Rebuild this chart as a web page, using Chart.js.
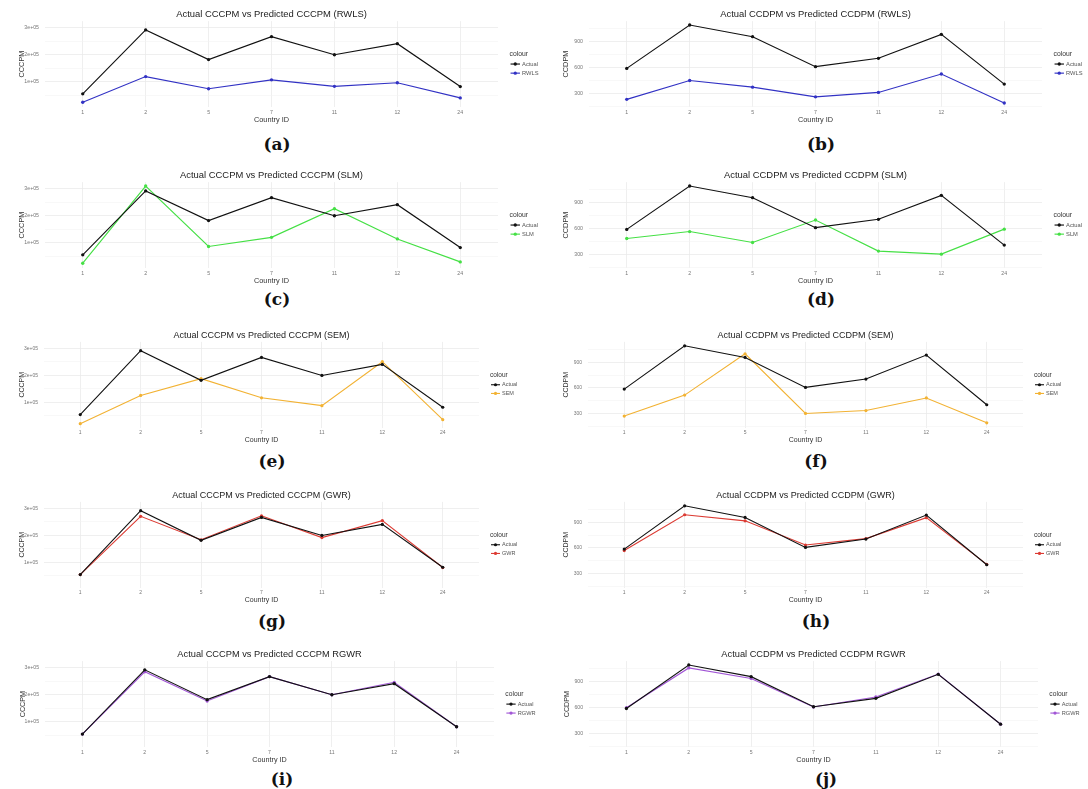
<!DOCTYPE html>
<html lang="en">
<head>
<meta charset="UTF-8">
<title>Actual vs Predicted CCCPM / CCDPM</title>
<style>
  body { margin: 0; background: #fff; width: 1088px; height: 789px; overflow: hidden; position: relative; }
  .panel { position: absolute; width: 544px; overflow: hidden; }
  .caption { position: absolute; width: 60px; text-align: center; font-family: "DejaVu Serif", serif;
             font-weight: bold; font-size: 17px; line-height: 18px; color: #111; }
</style>
<script src="https://cdn.jsdelivr.net/npm/chart.js"></script>
</head>
<body>
<script>
// x categories
const countryIds = ['1', '2', '5', '7', '11', '12', '24'];

// CCCPM (left column)
const actualCCCPM = [55000, 292000, 182000, 267000, 200000, 241000, 82000];
const rwlsCCCPM   = [24000, 119000, 74000, 107000, 83000, 96000, 40000];
const slmCCCPM    = [24000, 310000, 86000, 120000, 226000, 114000, 29000];
const semCCCPM    = [21000, 126000, 188000, 117000, 88000, 251000, 36000];
const gwrCCCPM    = [55000, 271000, 184000, 273000, 192000, 255000, 81000];
const rgwrCCCPM   = [55000, 285000, 177000, 267000, 200000, 246000, 82000];

// CCDPM (right column)
const actualCCDPM = [587, 1090, 955, 607, 704, 982, 405];
const rwlsCCDPM   = [228, 447, 369, 257, 308, 522, 185];
const slmCCDPM    = [481, 562, 435, 696, 335, 300, 590];
const semCCDPM    = [274, 517, 997, 304, 338, 484, 195];
const gwrCCDPM    = [570, 986, 915, 634, 709, 952, 409];
const rgwrCCDPM   = [596, 1056, 934, 604, 720, 985, 405];

const modelNames  = ['RWLS', 'SLM', 'SEM', 'GWR', 'RGWR'];
const titleSuffix = ['(RWLS)', '(SLM)', '(SEM)', '(GWR)', 'RGWR'];
const modelColors = ['#3232c4', '#45e045', '#f2b233', '#dc3b33', '#a257d6'];
const captions    = [['(a)', '(b)'], ['(c)', '(d)'], ['(e)', '(f)'], ['(g)', '(h)'], ['(i)', '(j)']];

// page layout, one entry per row
const rowTitleY   = [13, 173.5, 333.5, 493.5, 652.5];
const rowCaptionY = [144, 299, 461, 621, 779];
const rowCaptionX = [277, 277, 272, 272, 282];
const rowScale    = [1.046, 1.046, 1, 1, 1.03];
const rowPlotX    = [[45, 498], [45, 498], [44, 479], [44, 479], [45, 494]];

const predicted = [
  [rwlsCCCPM, slmCCCPM, semCCCPM, gwrCCCPM, rgwrCCCPM],
  [rwlsCCDPM, slmCCDPM, semCCDPM, gwrCCDPM, rgwrCCDPM]
];
const actual = [actualCCCPM, actualCCDPM];
const measure = ['CCCPM', 'CCDPM'];
const majorStep = [100000, 300];

const FONT = '"Liberation Sans", Arial, sans-serif';

function fmtSci(v) {
  return v.toExponential(0).replace('e+', 'e+0');
}

// shared y range per column (all series, 5% expansion like ggplot)
function columnRange(col) {
  const all = actual[col].concat(...predicted[col]);
  const lo = Math.min(...all), hi = Math.max(...all);
  const pad = (hi - lo) * 0.05;
  return [lo - pad, hi + pad];
}

// ggplot-like legend drawn right of the plot panel
const ggLegend = {
  id: 'ggLegend',
  afterDraw(chart, args, opts) {
    const ctx = chart.ctx;
    const a = chart.chartArea;
    const s = opts.scale;
    const x0 = a.right + 11 * s;
    const yc = (a.top + a.bottom) / 2;
    ctx.save();
    ctx.textBaseline = 'middle';
    ctx.textAlign = 'left';
    ctx.fillStyle = '#333';
    ctx.font = (6.5 * s) + 'px ' + FONT;
    ctx.fillText('colour', x0, yc - 9.5 * s);
    chart.data.datasets.forEach((d, i) => {
      const y = yc + i * 8.7 * s;
      ctx.strokeStyle = d.borderColor;
      ctx.lineWidth = 1.1 * s;
      ctx.beginPath();
      ctx.moveTo(x0 + 1 * s, y);
      ctx.lineTo(x0 + 10 * s, y);
      ctx.stroke();
      ctx.fillStyle = d.borderColor;
      ctx.beginPath();
      ctx.arc(x0 + 5.5 * s, y, 1.6 * s, 0, Math.PI * 2);
      ctx.fill();
      ctx.fillStyle = '#555';
      ctx.font = (5.5 * s) + 'px ' + FONT;
      ctx.fillText(d.label, x0 + 12 * s, y);
    });
    ctx.restore();
  }
};

function makePanel(row, col) {
  const s = rowScale[row];
  const T = rowTitleY[row];
  const top = T - 10;
  const h = Math.round(108 + 14.4 * s);
  const [plotLeft, plotRight] = rowPlotX[row];
  const yAxisW = 26 * s;

  const div = document.createElement('div');
  div.className = 'panel';
  div.style.left = (col * 544) + 'px';
  div.style.top = top + 'px';
  div.style.height = h + 'px';
  const canvas = document.createElement('canvas');
  canvas.width = 544;
  canvas.height = h;
  div.appendChild(canvas);
  document.body.appendChild(div);

  const cap = document.createElement('div');
  cap.className = 'caption';
  cap.textContent = captions[row][col];
  cap.style.left = (col * 544 + rowCaptionX[row] - 30) + 'px';
  cap.style.top = (rowCaptionY[row] - 9) + 'px';
  document.body.appendChild(cap);

  const act = actual[col];
  const pred = predicted[col][row];
  const [yMin, yMax] = columnRange(col);
  const step = majorStep[col];
  const half = step / 2;
  const name = measure[col];

  new Chart(canvas, {
    type: 'line',
    data: {
      datasets: [
        {
          label: 'Actual',
          data: act.map((v, i) => ({ x: i, y: v })),
          borderColor: '#111',
          backgroundColor: '#111'
        },
        {
          label: modelNames[row],
          data: pred.map((v, i) => ({ x: i, y: v })),
          borderColor: modelColors[row],
          backgroundColor: modelColors[row]
        }
      ]
    },
    options: {
      responsive: false,
      animation: false,
      layout: { padding: { left: plotLeft - yAxisW, right: 544 - plotRight, top: 0, bottom: 2 } },
      elements: {
        line: { borderWidth: 1.1 * s, tension: 0 },
        point: { radius: 1.6 * s, borderWidth: 0, hoverRadius: 1.6 * s }
      },
      plugins: {
        legend: { display: false },
        tooltip: { enabled: false },
        title: {
          display: true,
          fullSize: false,
          text: 'Actual ' + name + ' vs Predicted ' + name + ' ' + titleSuffix[row],
          color: '#222',
          font: { family: FONT, size: 9 * s, weight: 'normal' },
          padding: { top: 11.5 - 5.4 * s, bottom: 1 }
        },
        ggLegend: { scale: s }
      },
      scales: {
        x: {
          type: 'linear',
          min: -0.6,
          max: 6.6,
          afterBuildTicks: (sc) => { sc.ticks = countryIds.map((_, i) => ({ value: i })); },
          ticks: {
            autoSkip: false,
            maxRotation: 0,
            padding: 2,
            color: '#777',
            font: { family: FONT, size: 5 * s },
            callback: (v) => countryIds[Math.round(v)]
          },
          grid: { color: '#ebebeb', lineWidth: 0.8, drawTicks: false },
          border: { display: false },
          title: {
            display: true,
            text: 'Country ID',
            color: '#333',
            font: { family: FONT, size: 7 * s },
            padding: { top: -2, bottom: 0 }
          }
        },
        y: {
          min: yMin,
          max: yMax,
          afterFit: (sc) => { sc.width = yAxisW; },
          afterBuildTicks: (sc) => {
            const t = [];
            for (let k = Math.ceil(sc.min / half); k * half <= sc.max; k++) t.push({ value: k * half });
            sc.ticks = t;
          },
          ticks: {
            autoSkip: false,
            padding: 6,
            color: '#777',
            font: { family: FONT, size: 5 * s },
            callback: (v) => {
              if (Math.abs(v / step - Math.round(v / step)) > 1e-9) return '';
              return col === 0 ? fmtSci(v) : String(Math.round(v));
            }
          },
          grid: {
            drawTicks: false,
            color: (c) => (c.tick && c.tick.label === '' ? '#f4f4f4' : '#ebebeb'),
            lineWidth: (c) => (c.tick && c.tick.label === '' ? 0.6 : 0.8)
          },
          border: { display: false },
          title: {
            display: true,
            text: name,
            color: '#333',
            font: { family: FONT, size: 7 * s },
            padding: { top: 0, bottom: 0 }
          }
        }
      }
    },
    plugins: [ggLegend]
  });
}

for (let r = 0; r < 5; r++) {
  makePanel(r, 0);
  makePanel(r, 1);
}
</script>
</body>
</html>
